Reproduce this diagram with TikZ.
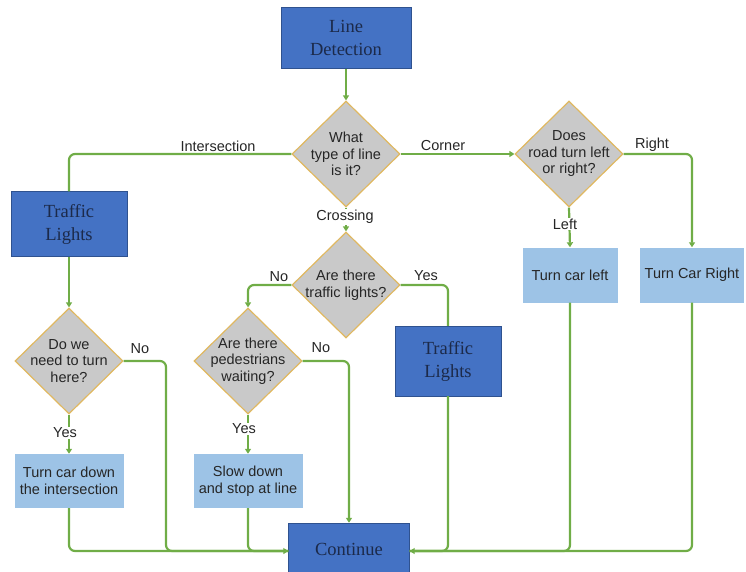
\documentclass[tikz,border=0pt]{standalone}
\usepackage{fontspec}
\setmainfont{Liberation Sans}
\newfontfamily\boxfont{Liberation Serif}
\usetikzlibrary{shapes,arrows.meta,positioning}

\definecolor{darkbox}{HTML}{4472C4}
\definecolor{darkedge}{HTML}{2F528F}
\definecolor{navytext}{HTML}{1C2A4A}
\definecolor{lightbox}{HTML}{9DC3E6}
\definecolor{greybox}{HTML}{C9C9C9}
\definecolor{goldedge}{HTML}{E0B860}
\definecolor{flow}{HTML}{70AD47}
\definecolor{darktext}{HTML}{262626}

\begin{document}
\begin{tikzpicture}[x=1pt, y=-1pt, >={Triangle[length=5pt,width=6pt]}]
		\tikzstyle{Dark}	= [rectangle, draw=darkedge, fill=darkbox, text=navytext, align=center, inner sep=0pt, font=\boxfont\fontsize{18.5}{23}\selectfont]
		\tikzstyle{Light}	= [rectangle, fill=lightbox, text=darktext, align=center, inner sep=0pt, font=\fontsize{14.5}{16.5}\selectfont]
		\tikzstyle{Decision}	= [diamond, draw=goldedge, line width=1.2pt, fill=greybox, minimum width=108pt, minimum height=106pt, inner sep=-10pt, align=center, text=darktext, font=\fontsize{14.5}{16.5}\selectfont]
		\tikzstyle{Tag}		= [text=darktext, inner sep=1pt, font=\fontsize{14.5}{16.5}\selectfont]
		\tikzstyle{Flow}	= [draw=flow, line width=2.2pt, rounded corners=6pt]

		\useasboundingbox (0,0) rectangle (746,571);

		\node (ld) at (346, 38) [Dark, minimum width=130pt, minimum height=61pt] {Line\\Detection};
		\node (q1) at (346,154) [Decision] {What\\type of line\\is it?};
		\node (q2) at (569,154) [Decision] {Does\\road turn left\\or right?};
		\node (tl1) at (69,224) [Dark, minimum width=116pt, minimum height=65pt] {Traffic\\Lights};
		\node (left) at (570,275) [Light, minimum width=95pt, minimum height=55pt] {Turn car left};
		\node (right) at (692,275) [Light, minimum width=104pt, minimum height=55pt] {Turn Car Right};
		\node (q4) at (346,285) [Decision] {Are there\\traffic lights?};
		\node (q3) at (69,361) [Decision] {Do we\\need to turn\\here?};
		\node (q5) at (248,361) [Decision] {Are there\\pedestrians\\waiting?};
		\node (tl2) at (448,361) [Dark, minimum width=106pt, minimum height=70pt] {Traffic\\Lights};
		\node (down) at (69,481) [Light, minimum width=109pt, minimum height=54pt] {Turn car down\\the intersection};
		\node (slow) at (248,481) [Light, minimum width=109pt, minimum height=54pt] {Slow down\\and stop at line};
		\node (cont) at (349,551) [Dark, minimum width=121pt, minimum height=56pt] {\raisebox{3pt}{Continue}};

		\coordinate (j1) at (166,551);

		% top part
		\draw [Flow, ->] (ld) to (q1);
		\draw [Flow] (q1.west) -| (tl1.north);
		\draw [Flow, ->] (q1.east) to (q2.west);
		\draw [Flow, ->] (q1.south) to (q4.north);
		\draw [Flow, ->] (q2.east) -| (right.north);
		\draw [Flow, ->] (q2.south) to (left.north);

		% left side
		\draw [Flow, ->] (tl1.south) to (q3.north);
		\draw [Flow, ->] (q3.south) to (down.north);
		\draw [Flow] (q3.east) -| (j1) -- (cont.west);
		\draw [Flow, ->] (down.south) |- (cont.west);

		% crossing
		\draw [Flow, ->] (q4.west) -| (q5.north);
		\draw [Flow] (q4.east) -| (tl2.north);
		\draw [Flow, ->] (q5.south) to (slow.north);
		\draw [Flow, ->] (q5.east) -| (cont.north);
		\draw [Flow] (slow.south) |- (cont.west);

		% right side
		\draw [Flow] (tl2.south) |- (cont.east);
		\draw [Flow] (left.south) |- (cont.east);
		\draw [Flow, ->] (right.south) |- (cont.east);

		\node (tInter) at (218,146) [Tag] {Intersection};
		\node (tCorner) at (443,146) [Tag] {Corner};
		\node (tRight) at (652,145) [Tag] {Right};
		\node (tLeft) at (565,224) [Tag, fill=white] {Left};
		\node (tCross) at (345,217) [Tag, fill=white] {Crossing};
		\node (tNo1) at (279,277) [Tag] {No};
		\node (tYes1) at (426,276) [Tag] {Yes};
		\node (tNo2) at (140,349) [Tag] {No};
		\node (tNo3) at (321,348) [Tag] {No};
		\node (tYes2) at (65,433) [Tag, fill=white] {Yes};
		\node (tYes3) at (244,429) [Tag, fill=white] {Yes};
\end{tikzpicture}
\end{document}
